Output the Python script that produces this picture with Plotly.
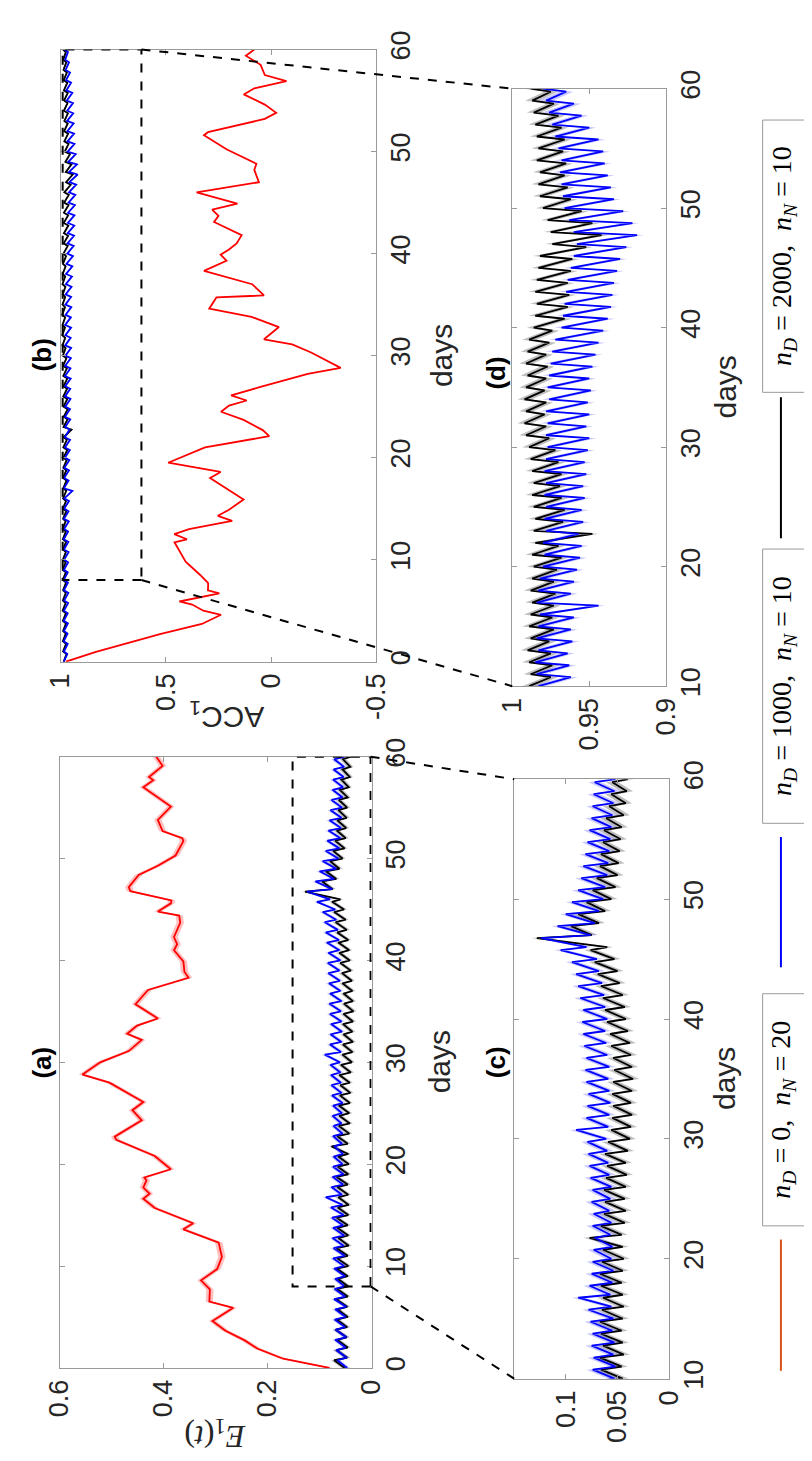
import plotly.graph_objects as go

# ---------------- data ----------------
# n_D = 0, n_N = 20 : E1(t) (panel a) and ACC1 (panel b), irregular day sampling
red_e1_days = [0.0, 0.9, 1.9, 2.7, 3.65, 4.6, 5.9, 6.5, 7.7, 8.6, 9.7, 10.9, 12.3, 13.6, 14.2,
               15.7, 16.6, 17.1, 17.7, 18.4, 18.7, 19.5, 20.8, 22.4, 22.7, 24.3, 25.3, 26.1,
               28.0, 28.8, 30.0, 31.1, 32.2, 32.8, 33.6, 34.3, 35.7, 36.7, 37.1, 38.3, 38.9,
               39.9, 40.2, 41.0, 41.6, 42.3, 43.7, 44.4, 44.8, 45.6, 45.9, 46.8, 47.2, 48.4,
               49.3, 50.3, 51.7, 52.0, 52.7, 53.8, 55.1, 56.7, 57.0, 57.7, 58.0, 59.1, 60.0]
red_e1 = [0.081, 0.170, 0.220, 0.244, 0.281, 0.306, 0.266, 0.312, 0.311, 0.328, 0.297, 0.288,
          0.294, 0.362, 0.343, 0.417, 0.439, 0.427, 0.439, 0.433, 0.437, 0.386, 0.417, 0.491,
          0.494, 0.442, 0.460, 0.439, 0.504, 0.556, 0.522, 0.467, 0.442, 0.470, 0.451, 0.411,
          0.454, 0.436, 0.430, 0.352, 0.360, 0.362, 0.367, 0.380, 0.374, 0.380, 0.368, 0.370,
          0.411, 0.386, 0.385, 0.464, 0.467, 0.448, 0.411, 0.377, 0.362, 0.364, 0.402, 0.411,
          0.386, 0.430, 0.439, 0.420, 0.428, 0.402, 0.414]

red_acc_days = [0.0, 0.96, 2.7, 3.7, 4.6, 5.0, 5.6, 5.9, 6.7, 7.0, 7.7, 8.5, 9.8, 11.7, 12.0,
                12.5, 13.0, 13.8, 14.3, 14.9, 15.9, 17.5, 18.0, 18.6, 19.5, 21.0, 22.1, 22.7,
                23.7, 24.5, 25.1, 25.6, 26.1, 26.9, 28.2, 28.8, 30.3, 31.1, 31.6, 32.8, 33.8,
                34.6, 35.7, 35.9, 37.0, 38.3, 39.3, 39.9, 40.4, 41.0, 41.8, 43.1, 43.7, 44.3,
                44.9, 46.0, 47.0, 48.2, 48.8, 50.2, 51.6, 51.9, 52.9, 53.2, 53.8, 54.6, 55.6,
                56.2, 56.9, 57.5, 58.5, 59.4, 60.0]
red_acc = [0.975, 0.832, 0.528, 0.329, 0.238, 0.322, 0.375, 0.436, 0.246, 0.300, 0.299, 0.337,
           0.406, 0.459, 0.400, 0.460, 0.390, 0.185, 0.253, 0.200, 0.131, 0.250, 0.290, 0.240,
           0.489, 0.314, 0.009, 0.040, 0.131, 0.238, 0.200, 0.116, 0.190, 0.055, -0.174, -0.330,
           -0.190, -0.100, 0.034, -0.037, 0.093, 0.294, 0.260, 0.034, 0.090, 0.319, 0.212, 0.240,
           0.200, 0.164, 0.140, 0.271, 0.250, 0.280, 0.160, 0.354, 0.058, 0.080, 0.070, 0.210,
           0.319, 0.300, 0.081, 0.030, -0.024, 0.030, 0.130, 0.080, -0.073, 0.030, 0.050, 0.120,
           0.080]

# cycled runs: value right after each daily analysis (days 0..60) and
# value at the end of each forecast (day k + 0.75, k = 0..59)
analysis_days = list(range(0, 61))
forecast_days = [k + 0.75 for k in range(0, 60)]

# n_D = 1000, n_N = 10 (blue)
blue_e1_an = [0.047, 0.048, 0.050, 0.049, 0.051, 0.050, 0.049, 0.051, 0.052, 0.051,
              0.053, 0.052, 0.054, 0.053, 0.055, 0.054, 0.056, 0.057, 0.055, 0.054,
              0.056, 0.055, 0.057, 0.056, 0.058, 0.057, 0.056, 0.058, 0.059, 0.060,
              0.061, 0.059, 0.058, 0.057, 0.058, 0.059, 0.058, 0.060, 0.061, 0.062,
              0.060, 0.062, 0.063, 0.065, 0.068, 0.070, 0.080, 0.076, 0.072, 0.068,
              0.064, 0.062, 0.060, 0.059, 0.058, 0.057, 0.056, 0.055, 0.054, 0.053, 0.052]
blue_e1_fc = [0.066, 0.068, 0.070, 0.069, 0.071, 0.070, 0.072, 0.071, 0.070, 0.072,
              0.074, 0.073, 0.075, 0.074, 0.076, 0.078, 0.088, 0.077, 0.075, 0.074,
              0.073, 0.072, 0.074, 0.073, 0.075, 0.074, 0.076, 0.077, 0.078, 0.079,
              0.090, 0.080, 0.079, 0.078, 0.080, 0.081, 0.080, 0.082, 0.083, 0.084,
              0.083, 0.086, 0.088, 0.090, 0.094, 0.105, 0.124, 0.108, 0.100, 0.094,
              0.088, 0.085, 0.083, 0.081, 0.079, 0.077, 0.075, 0.074, 0.073, 0.072]
blue_acc_an = [0.985, 0.984, 0.985, 0.984, 0.985, 0.984, 0.983, 0.984, 0.985, 0.984,
               0.983, 0.984, 0.985, 0.983, 0.984, 0.983, 0.982, 0.984, 0.983, 0.982,
               0.980, 0.979, 0.980, 0.978, 0.979, 0.978, 0.979, 0.978, 0.979, 0.978,
               0.977, 0.978, 0.977, 0.978, 0.976, 0.977, 0.976, 0.975, 0.974, 0.972,
               0.968, 0.967, 0.966, 0.965, 0.964, 0.962, 0.960, 0.958, 0.960, 0.963,
               0.966, 0.967, 0.968, 0.969, 0.968, 0.970, 0.972, 0.974, 0.976, 0.978, 0.980]
blue_acc_fc = [0.968, 0.966, 0.967, 0.965, 0.966, 0.964, 0.963, 0.965, 0.966, 0.964,
               0.962, 0.963, 0.964, 0.961, 0.962, 0.960, 0.944, 0.962, 0.960, 0.958,
               0.956, 0.955, 0.957, 0.954, 0.955, 0.953, 0.954, 0.952, 0.953, 0.951,
               0.950, 0.952, 0.950, 0.951, 0.949, 0.950, 0.948, 0.946, 0.944, 0.941,
               0.938, 0.936, 0.935, 0.934, 0.932, 0.930, 0.926, 0.919, 0.922, 0.928,
               0.934, 0.936, 0.938, 0.940, 0.941, 0.944, 0.950, 0.955, 0.960, 0.965]

# n_D = 2000, n_N = 10 (black)
black_e1_an = [0.052, 0.047, 0.046, 0.048, 0.047, 0.046, 0.047, 0.046, 0.045, 0.046,
               0.045, 0.046, 0.044, 0.045, 0.046, 0.045, 0.044, 0.045, 0.046, 0.045,
               0.044, 0.045, 0.046, 0.043, 0.042, 0.043, 0.042, 0.041, 0.042, 0.040,
               0.038, 0.037, 0.036, 0.037, 0.036, 0.035, 0.036, 0.037, 0.038, 0.040,
               0.042, 0.043, 0.045, 0.048, 0.050, 0.053, 0.060, 0.075, 0.068, 0.062,
               0.056, 0.052, 0.050, 0.049, 0.048, 0.047, 0.046, 0.044, 0.042, 0.041, 0.040]
black_e1_fc = [0.072, 0.068, 0.066, 0.069, 0.067, 0.066, 0.068, 0.066, 0.065, 0.067,
               0.066, 0.067, 0.064, 0.066, 0.067, 0.065, 0.064, 0.066, 0.067, 0.065,
               0.064, 0.077, 0.066, 0.063, 0.062, 0.063, 0.061, 0.060, 0.062, 0.059,
               0.056, 0.055, 0.054, 0.055, 0.054, 0.053, 0.054, 0.056, 0.057, 0.060,
               0.062, 0.064, 0.066, 0.069, 0.072, 0.076, 0.128, 0.095, 0.088, 0.080,
               0.074, 0.070, 0.067, 0.066, 0.064, 0.063, 0.061, 0.058, 0.056, 0.055]
black_acc_an = [0.985, 0.988, 0.989, 0.988, 0.989, 0.990, 0.989, 0.988, 0.989, 0.990,
                0.989, 0.988, 0.989, 0.990, 0.988, 0.989, 0.988, 0.987, 0.988, 0.987,
                0.986, 0.987, 0.985, 0.986, 0.985, 0.986, 0.987, 0.986, 0.987, 0.988,
                0.989, 0.991, 0.992, 0.991, 0.992, 0.991, 0.990, 0.991, 0.990, 0.989,
                0.986, 0.985, 0.984, 0.985, 0.984, 0.983, 0.982, 0.974, 0.975, 0.977,
                0.980, 0.982, 0.983, 0.982, 0.984, 0.983, 0.984, 0.985, 0.986, 0.987, 0.988]
black_acc_fc = [0.972, 0.974, 0.975, 0.974, 0.975, 0.976, 0.975, 0.974, 0.975, 0.976,
                0.975, 0.974, 0.975, 0.976, 0.973, 0.974, 0.973, 0.972, 0.973, 0.971,
                0.968, 0.970, 0.948, 0.967, 0.966, 0.968, 0.969, 0.968, 0.970, 0.972,
                0.976, 0.978, 0.979, 0.978, 0.979, 0.978, 0.977, 0.978, 0.976, 0.974,
                0.966, 0.964, 0.963, 0.964, 0.962, 0.961, 0.952, 0.942, 0.948, 0.955,
                0.962, 0.964, 0.966, 0.965, 0.967, 0.966, 0.968, 0.970, 0.973, 0.975]

# ensemble spread (half width of shaded bands)
spread_red_e1 = 0.007
spread_e1 = 0.006
spread_acc = 0.0045

# zoom window (dashed rectangles)
zoom_days = [8, 60]
zoom_e1 = [0.002, 0.152]
zoom_acc = [0.616, 0.99]

legend_labels = ["<i>n</i><sub><i>D</i></sub> = 0,  <i>n</i><sub><i>N</i></sub> = 20",
                 "<i>n</i><sub><i>D</i></sub> = 1000,  <i>n</i><sub><i>N</i></sub> = 10",
                 "<i>n</i><sub><i>D</i></sub> = 2000,  <i>n</i><sub><i>N</i></sub> = 10"]
legend_colors = ["#D95319", "#0000FF", "#000000"]

# ---------------- figure ----------------
W, H = 812, 1461


def px(xp):
    return xp / W


def py(yp):
    return 1 - yp / H


def interleave(an, fc):
    t, v = [], []
    for k in range(len(fc)):
        t += [analysis_days[k], forecast_days[k]]
        v += [an[k], fc[k]]
    t.append(analysis_days[len(fc)])
    v.append(an[len(fc)])
    return t, v


# axes geometry (paper)
dom = {
    "a": dict(x=[px(38), px(362)], y=[py(1369), py(745)], xr=[0.6, 0], yr=[0, 60]),
    "b": dict(x=[px(39), px(367)], y=[py(648), py(23)], xr=[1, -0.5], yr=[0, 60]),
    "c": dict(x=[px(510), px(671)], y=[py(1380), py(768)], xr=[0.15, 0], yr=[10, 60]),
    "d": dict(x=[px(508), px(668)], y=[py(673), py(63)], xr=[1, 0.9], yr=[10, 60]),
}
axis_ids = {"a": ("x", "y"), "b": ("x2", "y2"), "c": ("x3", "y3"), "d": ("x4", "y4")}


def to_paper(panel, v, d):
    g = dom[panel]
    fx = (v - g["xr"][0]) / (g["xr"][1] - g["xr"][0])
    fy = (d - g["yr"][0]) / (g["yr"][1] - g["yr"][0])
    return (g["x"][0] + fx * (g["x"][1] - g["x"][0]),
            g["y"][0] + fy * (g["y"][1] - g["y"][0]))


fig = go.Figure()


def add_band(panel, t, v, sd, fillcolor):
    xa, ya = axis_ids[panel]
    xs = [a + sd for a in v] + [a - sd for a in v[::-1]]
    ys = list(t) + list(t[::-1])
    fig.add_trace(go.Scatter(x=xs, y=ys, fill="toself", fillcolor=fillcolor,
                             line=dict(width=0), mode="lines", hoverinfo="skip",
                             showlegend=False, xaxis=xa, yaxis=ya))


def add_line(panel, t, v, color, width=1.8):
    xa, ya = axis_ids[panel]
    fig.add_trace(go.Scatter(x=v, y=t, mode="lines", line=dict(color=color, width=width),
                             showlegend=False, xaxis=xa, yaxis=ya))


tb_e1, vb_e1 = interleave(blue_e1_an, blue_e1_fc)
tk_e1, vk_e1 = interleave(black_e1_an, black_e1_fc)
tb_acc, vb_acc = interleave(blue_acc_an, blue_acc_fc)
tk_acc, vk_acc = interleave(black_acc_an, black_acc_fc)

BAND_RED = "rgba(255,0,0,0.25)"
BAND_BLUE = "rgba(40,40,255,0.25)"
BAND_BLACK = "rgba(0,0,0,0.25)"

# panel (a)
add_band("a", red_e1_days, red_e1, spread_red_e1, BAND_RED)
add_band("a", tk_e1, vk_e1, spread_e1, BAND_BLACK)
add_band("a", tb_e1, vb_e1, spread_e1, BAND_BLUE)
add_line("a", red_e1_days, red_e1, "#FF0000")
add_line("a", tk_e1, vk_e1, "#000000")
add_line("a", tb_e1, vb_e1, "#0000FF")
# panel (b)
add_line("b", red_acc_days, red_acc, "#FF0000")
add_band("b", tk_acc, vk_acc, spread_acc, BAND_BLACK)
add_band("b", tb_acc, vb_acc, spread_acc, BAND_BLUE)
add_line("b", tk_acc, vk_acc, "#000000")
add_line("b", tb_acc, vb_acc, "#0000FF")
# panel (c)
add_band("c", tk_e1, vk_e1, spread_e1, BAND_BLACK)
add_band("c", tb_e1, vb_e1, spread_e1, BAND_BLUE)
add_line("c", tk_e1, vk_e1, "#000000", 1.8)
add_line("c", tb_e1, vb_e1, "#0000FF", 1.8)
# panel (d)
add_band("d", tk_acc, vk_acc, spread_acc, BAND_BLACK)
add_band("d", tb_acc, vb_acc, spread_acc, BAND_BLUE)
add_line("d", tk_acc, vk_acc, "#000000", 1.8)
add_line("d", tb_acc, vb_acc, "#0000FF", 1.8)

FONT = "Liberation Sans, Arial, sans-serif"
SERIF = "Liberation Serif, Times New Roman, serif"
TICKF = dict(family=FONT, size=27, color="#262626")
AXC = "#9a9a9a"

value_ticks = {
    "a": ([0, 0.2, 0.4, 0.6], ["0", "0.2", "0.4", "0.6"]),
    "b": ([-0.5, 0, 0.5, 1], ["-0.5", "0", "0.5", "1"]),
    "c": ([0, 0.05, 0.1], ["0", "0.05", "0.1"]),
    "d": ([0.9, 0.95, 1], ["0.9", "0.95", "1"]),
}
day_ticks = {"a": [0, 10, 20, 30, 40, 50, 60], "b": [0, 10, 20, 30, 40, 50, 60],
             "c": [10, 20, 30, 40, 50, 60], "d": [10, 20, 30, 40, 50, 60]}

layout = dict(width=W, height=H, margin=dict(l=0, r=0, t=0, b=0),
              paper_bgcolor="white", plot_bgcolor="white", showlegend=False)
for p, (xa, ya) in axis_ids.items():
    g = dom[p]
    xkey = "xaxis" if xa == "x" else "xaxis" + xa[1:]
    ykey = "yaxis" if ya == "y" else "yaxis" + ya[1:]
    tv, tt = value_ticks[p]
    layout[xkey] = dict(domain=g["x"], range=g["xr"], anchor=ya, side="bottom",
                        tickvals=tv, ticktext=tt, tickangle=-90, tickfont=TICKF,
                        showline=True, linecolor=AXC, linewidth=1, mirror="ticks",
                        ticks="inside", ticklen=5, tickcolor=AXC, showgrid=False,
                        zeroline=False, fixedrange=True)
    layout[ykey] = dict(domain=g["y"], range=g["yr"], anchor=xa, side="right",
                        tickvals=day_ticks[p], ticktext=[str(d) for d in day_ticks[p]],
                        tickangle=-90, tickfont=TICKF,
                        showline=True, linecolor=AXC, linewidth=1, mirror="ticks",
                        ticks="inside", ticklen=5, tickcolor=AXC, showgrid=False,
                        zeroline=False, fixedrange=True)
fig.update_layout(**layout)

# dashed zoom rectangles
fig.add_shape(type="rect", xref="x", yref="y", x0=zoom_e1[0], x1=zoom_e1[1],
              y0=zoom_days[0], y1=zoom_days[1], line=dict(color="black", width=2, dash="dash"))
fig.add_shape(type="rect", xref="x2", yref="y2", x0=zoom_acc[0], x1=zoom_acc[1],
              y0=zoom_days[0], y1=zoom_days[1], line=dict(color="black", width=2, dash="dash"))

# connectors from zoom rectangles to the zoomed panels
for d_from, d_to in [(zoom_days[0], 10), (zoom_days[1], 60)]:
    x0, y0 = to_paper("a", zoom_e1[0], d_from)
    x1, y1 = to_paper("c", dom["c"]["xr"][0], d_to)
    fig.add_shape(type="line", xref="paper", yref="paper", x0=x0, y0=y0, x1=x1, y1=y1,
                  line=dict(color="black", width=2, dash="dash"))
    x0, y0 = to_paper("b", zoom_acc[0], d_from)
    x1, y1 = to_paper("d", dom["d"]["xr"][0], d_to)
    fig.add_shape(type="line", xref="paper", yref="paper", x0=x0, y0=y0, x1=x1, y1=y1,
                  line=dict(color="black", width=2, dash="dash"))

# titles and axis labels
def ann(text, x, y, angle, font):
    fig.add_annotation(text=text, x=px(x), y=py(y), xref="paper", yref="paper",
                       showarrow=False, textangle=angle, font=font,
                       xanchor="center", yanchor="middle")


TITLEF = dict(family=FONT, size=26, color="#000000")
LABF = dict(family=FONT, size=30, color="#262626")
ann("<b>(a)</b>", 20, 1057, -90, TITLEF)
ann("<b>(b)</b>", 20, 335, -90, TITLEF)
ann("<b>(c)</b>", 491, 1057, -90, TITLEF)
ann("<b>(d)</b>", 491, 353, -90, TITLEF)
ann("days", 432, 1057, -90, LABF)
ann("days", 434, 335, -90, LABF)
ann("days", 729, 1074, -90, LABF)
ann("days", 729, 368, -90, LABF)
ann("<i>E</i><sub>1</sub>(<i>t</i>)", 200, 1437, 180, dict(family=SERIF, size=32, color="#262626"))
ann("ACC<sub>1</sub>", 212, 703, 180, LABF)

# legend (rotated with the figure)
leg_line_y = [(1238, 1372), (827, 960), (378, 522)]
leg_box_y = [(987, 1224), (533, 813), (95, 373)]
for lab, col, (l0, l1), (b0, b1) in zip(legend_labels, legend_colors, leg_line_y, leg_box_y):
    fig.add_shape(type="line", xref="paper", yref="paper", x0=px(787), x1=px(787),
                  y0=py(l0), y1=py(l1), line=dict(color=col, width=2))
    fig.add_shape(type="rect", xref="paper", yref="paper", x0=px(768), x1=1.3,
                  y0=py(b1), y1=py(b0), line=dict(color="#9a9a9a", width=1),
                  fillcolor="white", layer="below")
    ann(lab, 789, (b0 + b1) / 2, -90, dict(family=SERIF, size=28, color="#000000"))

fig.write_html("out.html")
